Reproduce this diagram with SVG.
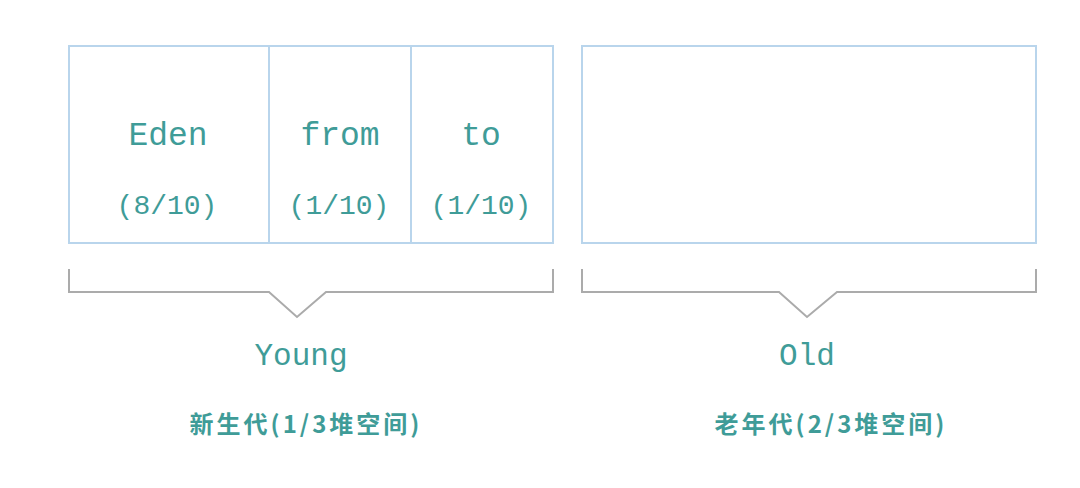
<svg xmlns="http://www.w3.org/2000/svg" width="1080" height="488" viewBox="0 0 1080 488">
<style>
.box{fill:#fff;stroke:#b9d5ec;stroke-width:2}
.div{stroke:#b9d5ec;stroke-width:2}
.brace{fill:none;stroke:#ababab;stroke-width:2}
.mono{font-family:"Liberation Mono","DejaVu Sans Mono",monospace;fill:#3f9c98;text-anchor:middle}
.t1{font-size:33px}
.t2{font-size:28px}
.t3{font-size:31px}
.cjk{font-family:"Noto Sans CJK SC","Noto Sans",sans-serif;font-size:24px;font-weight:bold;fill:#3f9c98;text-anchor:middle;letter-spacing:3px}
</style>
<rect width="1080" height="488" fill="#fff"/>
<g id="young">
<rect class="box" x="69" y="46" width="484" height="197"/>
<line class="div" x1="269" y1="46" x2="269" y2="243"/>
<line class="div" x1="411" y1="46" x2="411" y2="243"/>
</g>
<g id="eden">
<text class="mono t1" x="168" y="145">Eden</text>
<text class="mono t2" x="167" y="214">(8/10)</text>
</g>
<g id="from">
<text class="mono t1" x="340" y="145">from</text>
<text class="mono t2" x="339" y="214">(1/10)</text>
</g>
<g id="to">
<text class="mono t1" x="481" y="145">to</text>
<text class="mono t2" x="481" y="214">(1/10)</text>
</g>
<g id="old">
<rect class="box" x="582" y="46" width="454" height="197"/>
</g>
<g id="connectors">
<polyline class="brace" points="69,269 69,292 269,292 297,317 326,292 553,292 553,269"/>
<polyline class="brace" points="582,269 582,292 779,292 807,317 837,292 1036,292 1036,269"/>
</g>
<g id="young-label">
<text class="mono t3" x="301" y="365">Young</text>
<text class="cjk" x="306" y="433">新生代(1/3堆空间)</text>
</g>
<g id="old-label">
<text class="mono t3" x="807" y="365">Old</text>
<text class="cjk" x="831" y="433">老年代(2/3堆空间)</text>
</g>
</svg>
